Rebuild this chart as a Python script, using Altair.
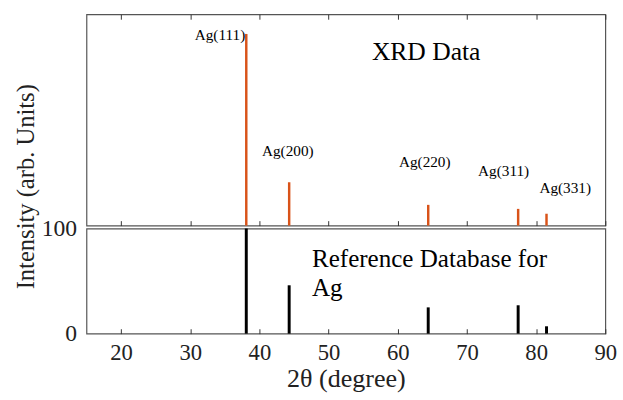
import altair as alt
import pandas as pd

# ---- data ----
two_theta = [38.1, 44.3, 64.4, 77.4, 81.5]
xrd_intensity = [907, 205, 98, 79, 56]          # arb. units
ref_intensity = [100, 46, 25, 27, 7]            # reference database (%)
peak_labels = ["Ag(111)", "Ag(200)", "Ag(220)", "Ag(311)", "Ag(331)"]
label_x = [34.3, 44.1, 63.9, 75.3, 84.2]
label_y = [902, 353, 302, 256, 177]
x_ticks = [20, 30, 40, 50, 60, 70, 80, 90]

FONT = "Liberation Serif"
W, H_TOP, H_BOT = 528, 215, 107

xrd = pd.DataFrame({"x": two_theta, "y": xrd_intensity})
ref = pd.DataFrame({"x": two_theta, "y": ref_intensity})
lab = pd.DataFrame({"x": label_x, "y": label_y, "t": peak_labels})
note_top = pd.DataFrame({"x": [64.1], "y": [786], "t": ["XRD Data"]})
note_bot = pd.DataFrame({"x": [47.6], "y": [63.5], "t": ["Reference Database for\nAg"]})

xscale = alt.Scale(domain=[15, 90], nice=False, zero=False)
ytop = alt.Scale(domain=[0, 1000], nice=False)
ybot = alt.Scale(domain=[0, 100], nice=False)

inward_bottom = dict(values=x_ticks, orient="bottom", offset=-5, tickSize=5, domain=False,
                     labels=False, title=None, grid=False, tickColor="#333")
inward_top = dict(values=x_ticks, orient="top", offset=-5, tickSize=5, domain=False,
                  labels=False, title=None, grid=False, tickColor="#333")

top_bars = alt.Chart(xrd).mark_rule(color="#D95319", strokeWidth=2.5).encode(
    x=alt.X("x:Q", scale=xscale, axis=alt.Axis(**inward_bottom)),
    y=alt.Y("y:Q", scale=ytop, axis=None),
    y2=alt.datum(0),
)
top_labels = alt.Chart(lab).mark_text(font=FONT, fontSize=15.5, color="black", align="center",
                                      baseline="middle").encode(
    x=alt.X("x:Q", scale=xscale, axis=alt.Axis(**inward_top)),
    y=alt.Y("y:Q", scale=ytop, axis=None),
    text="t:N",
)
top_note = alt.Chart(note_top).mark_text(font=FONT, fontSize=26, color="black", align="center",
                                         baseline="alphabetic").encode(
    x=alt.X("x:Q", scale=xscale, axis=None),
    y=alt.Y("y:Q", scale=ytop, axis=None),
    text="t:N",
)
top = alt.layer(top_bars, top_labels, top_note).resolve_axis(x="independent").properties(
    width=W, height=H_TOP)

bot_bars = alt.Chart(ref).mark_rule(color="black", strokeWidth=3).encode(
    x=alt.X("x:Q", scale=xscale,
            axis=alt.Axis(values=x_ticks, orient="bottom", offset=-5, tickSize=5, domain=False,
                          grid=False, tickColor="#333", labelFont=FONT, labelFontSize=23,
                          labelColor="#222", labelPadding=8, labelFlush=False,
                          title="2θ (degree)", titleFont=FONT, titleFontSize=26.5,
                          titleFontWeight="normal", titleColor="#222",
                          titleBaseline="alphabetic", titleY=59)),
    y=alt.Y("y:Q", scale=ybot,
            axis=alt.Axis(values=[0, 100], tickSize=0, domain=False, grid=False,
                          labelFont=FONT, labelFontSize=24, labelColor="#222", labelPadding=10,
                          labelFlush=False,
                          title="Intensity (arb. Units)", titleFont=FONT, titleFontSize=25,
                          titleFontWeight="normal", titleColor="#222", titleAngle=-90,
                          titleBaseline="alphabetic", titleX=-54, titleY=-43)),
    y2=alt.datum(0),
)
bot_note = alt.Chart(note_bot).mark_text(font=FONT, fontSize=25.5, color="black", align="left",
                                         baseline="alphabetic", lineBreak="\n",
                                         lineHeight=30).encode(
    x=alt.X("x:Q", scale=xscale),
    y=alt.Y("y:Q", scale=ybot),
    text="t:N",
)
bot = alt.layer(bot_bars, bot_note).properties(width=W, height=H_BOT)

chart = alt.vconcat(top, bot, spacing=3, bounds="flush").properties(
    padding={"left": 13, "top": 9, "right": 5, "bottom": 5},
    background="white",
).configure_view(stroke="#555", strokeWidth=1.2)

chart.save("out.html", embed_options={"renderer": "svg", "actions": False})
